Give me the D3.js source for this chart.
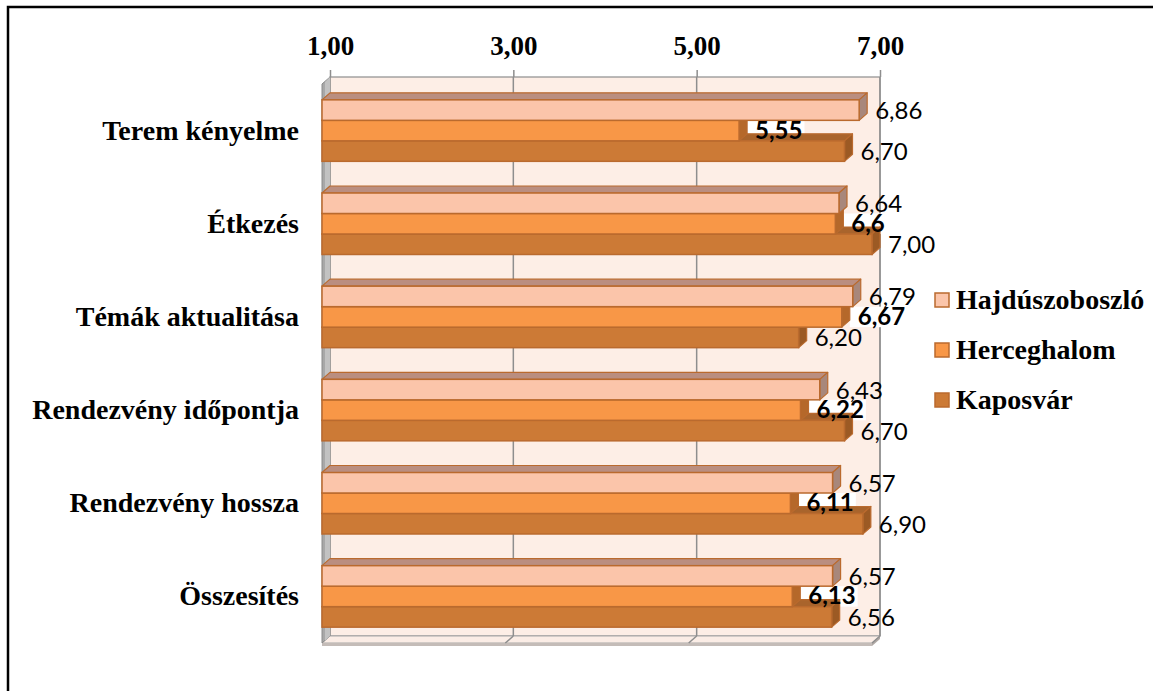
<!DOCTYPE html>
<html>
<head>
<meta charset="utf-8">
<script src="https://cdn.jsdelivr.net/npm/d3@7"></script>
<style>
  html, body { margin: 0; padding: 0; background: #fff; }
  svg { display: block; }
</style>
</head>
<body>
<svg id="chart" width="1153" height="691"></svg>
<script>
// Rendezvény értékelése helyszínenként (1–7 skála)
const categories = ["Terem kényelme", "Étkezés", "Témák aktualitása", "Rendezvény időpontja", "Rendezvény hossza", "Összesítés"];
const seriesNames = ["Hajdúszoboszló", "Herceghalom", "Kaposvár"];
const hajduszoboszlo = [6.86, 6.64, 6.79, 6.43, 6.57, 6.57];
const herceghalom   = [5.55, 6.6, 6.67, 6.22, 6.11, 6.13];
const kaposvar      = [6.70, 7.00, 6.20, 6.70, 6.90, 6.56];
const tickValues = [1, 3, 5, 7];

const huLocale = d3.formatLocale({ decimal: ",", thousands: " ", grouping: [3], currency: ["", " Ft"] });
const fmtFixed = huLocale.format(".2f");
const fmtTrim = huLocale.format(".2~f");

const series = [
  { name: seriesNames[0], values: hajduszoboszlo, front: "#FBC5AA", top: "#BA8E80", side: "#A8877B", bold: false, fmt: fmtFixed, dy: 9 },
  { name: seriesNames[1], values: herceghalom,   front: "#F89747", top: "#C5763A", side: "#B5682A", bold: true,  fmt: fmtTrim,  dy: 8 },
  { name: seriesNames[2], values: kaposvar,      front: "#CC7A36", top: "#A9642C", side: "#9C5A24", bold: false, fmt: fmtFixed, dy: 9 }
];
const edge = "#BA6A2E";

// 3D depth offset of the plot (back wall is shifted right/up)
const DX = 8, DY = 7;

const svg = d3.select("#chart");

// outer frame
svg.append("rect").attr("x", 8).attr("y", 7).attr("width", 1160).attr("height", 700)
  .attr("fill", "#fff").attr("stroke", "#000").attr("stroke-width", 2.5);

const x = d3.scaleLinear().domain([1, 7]).range([322, 872]);
const xBack = d3.scaleLinear().domain([1, 7]).range([322 + DX, 872 + DX]);
const yTop = 84, yBot = 643;
const y = d3.scaleBand().domain(categories).range([yTop, yBot]).paddingInner(0.34).paddingOuter(0.17);
const ys = d3.scaleBand().domain(seriesNames).range([0, y.bandwidth()]);

const gridColor = "#8E8E8E";

// back wall
svg.append("rect")
  .attr("x", xBack(1)).attr("y", yTop - DY)
  .attr("width", xBack(7) - xBack(1)).attr("height", yBot - yTop)
  .attr("fill", "#FDEEE6").attr("stroke", gridColor).attr("stroke-width", 1.2);

// floor
const floorPts = [[xBack(1), yBot - DY], [xBack(7), yBot - DY], [x(7), yBot], [x(1), yBot]];
svg.append("polygon").attr("points", floorPts.map(p => p.join(",")).join(" "))
  .attr("fill", "#FBEDE6").attr("stroke", "#A9A9A9").attr("stroke-width", 1);
svg.append("polygon")
  .attr("points", [[x(1), yBot], [x(7), yBot], [x(7), yBot + 3], [x(1), yBot + 3]].map(p => p.join(",")).join(" "))
  .attr("fill", "#C4BCB8");
svg.append("polygon")
  .attr("points", [[x(7), yBot], [xBack(7), yBot - DY], [xBack(7), yBot - DY + 3], [x(7), yBot + 3]].map(p => p.join(",")).join(" "))
  .attr("fill", "#B0A8A4");

// gridlines across the back wall and the floor
tickValues.slice(1).forEach(v => {
  svg.append("line").attr("x1", xBack(v)).attr("x2", xBack(v))
    .attr("y1", yTop - DY).attr("y2", yBot - DY)
    .attr("stroke", gridColor).attr("stroke-width", 1.5);
  svg.append("line").attr("x1", xBack(v)).attr("x2", x(v))
    .attr("y1", yBot - DY).attr("y2", yBot)
    .attr("stroke", gridColor).attr("stroke-width", 1.5);
});

// left side wall
svg.append("polygon")
  .attr("points", [[x(1), yTop], [xBack(1), yTop - DY], [xBack(1), yBot - DY], [x(1), yBot]].map(p => p.join(",")).join(" "))
  .attr("fill", "#A8A8A8").attr("stroke", "#8A8A8A").attr("stroke-width", 1);
svg.append("polygon")
  .attr("points", [[x(1) + 3, yTop - 2], [xBack(1), yTop - DY], [xBack(1), yBot - DY], [x(1) + 3, yBot - 2]].map(p => p.join(",")).join(" "))
  .attr("fill", "#C2C2C2");

// top value axis (on the back wall)
const axisTop = d3.axisTop(xBack).tickValues(tickValues).tickSize(7).tickPadding(15)
  .tickFormat(d => fmtFixed(d));
const gAxis = svg.append("g").attr("transform", `translate(0,${yTop - DY})`).call(axisTop);
gAxis.select(".domain").remove();
gAxis.selectAll(".tick line").attr("stroke", gridColor).attr("stroke-width", 1.5);
gAxis.selectAll(".tick text")
  .attr("fill", "#000").attr("font-family", "'Liberation Serif', 'Times New Roman', serif")
  .attr("font-weight", "bold").attr("font-size", 27);

// category axis
const axisLeft = d3.axisLeft(y).tickSize(0).tickPadding(0);
const gCat = svg.append("g").attr("transform", "translate(299,0)").call(axisLeft);
gCat.select(".domain").remove();
gCat.selectAll(".tick text")
  .attr("fill", "#000").attr("font-family", "'Liberation Serif', 'Times New Roman', serif")
  .attr("font-weight", "bold").attr("font-size", 28);

// white backdrops of the bold Herceghalom labels
const labelFontFamily = "Lato, 'Open Sans', sans-serif";
const bgLayer = svg.append("g");
const barLayer = svg.append("g");
const labelLayer = svg.append("g");

function poly(g, pts, fill, stroke) {
  g.append("polygon").attr("points", pts.map(p => p.join(",")).join(" "))
    .attr("fill", fill).attr("stroke", stroke).attr("stroke-width", 1.2).attr("stroke-linejoin", "round");
}

categories.forEach((cat, ci) => {
  // draw the lowest bar first so upper bars cover the hidden top faces
  for (let si = series.length - 1; si >= 0; si--) {
    const s = series[si];
    const v = s.values[ci];
    const top = y(cat) + ys(s.name);
    const h = ys.bandwidth();
    const x0 = x(1), x1 = x(v);
    const g = barLayer.append("g");
    // top face
    poly(g, [[x0, top], [x0 + DX, top - DY], [x1 + DX, top - DY], [x1, top]], s.top, edge);
    // end face
    poly(g, [[x1, top], [x1 + DX, top - DY], [x1 + DX, top + h - DY], [x1, top + h]], s.side, edge);
    // front face
    g.append("rect").attr("x", x0).attr("y", top).attr("width", x1 - x0).attr("height", h)
      .attr("fill", s.front).attr("stroke", edge).attr("stroke-width", 1.5);

    const lx = x1 + DX + 8;
    const ly = top + h / 2 + s.dy;
    const t = labelLayer.append("text")
      .attr("x", lx).attr("y", ly)
      .attr("font-family", labelFontFamily).attr("font-size", 24)
      .attr("font-weight", s.bold ? "bold" : "normal")
      .attr("fill", "#000")
      .text(s.fmt(v));
    if (s.bold) {
      const w = t.node().getComputedTextLength();
      bgLayer.append("rect")
        .attr("x", x1 + DX).attr("y", top).attr("width", w + 10).attr("height", h)
        .attr("fill", "#fff");
    }
  }
});

// legend
const legend = svg.append("g");
series.forEach((s, i) => {
  const ly = 293 + i * 50;
  legend.append("rect").attr("x", 935).attr("y", ly).attr("width", 14).attr("height", 14)
    .attr("fill", s.front).attr("stroke", edge).attr("stroke-width", 1.5);
  legend.append("text").attr("x", 956).attr("y", ly + 16)
    .attr("font-family", "'Liberation Serif', 'Times New Roman', serif")
    .attr("font-weight", "bold").attr("font-size", 28).attr("fill", "#000")
    .text(s.name);
});
</script>
</body>
</html>
